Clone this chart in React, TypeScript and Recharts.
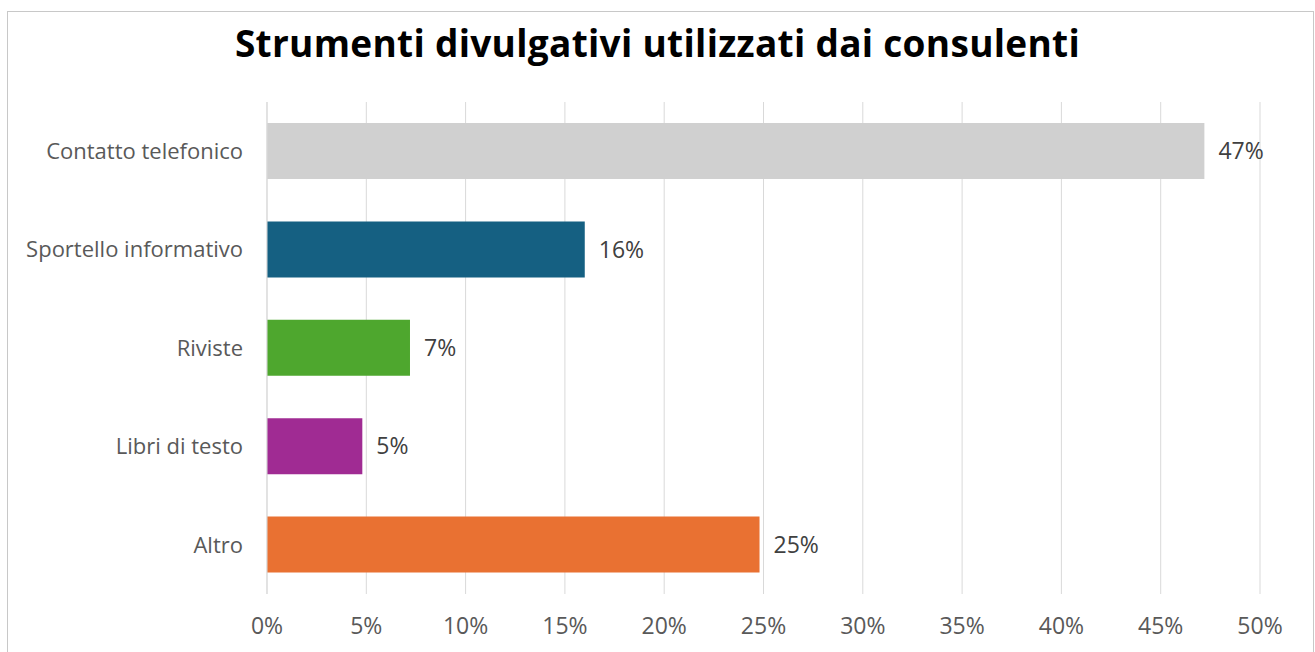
import React from "react";
import { BarChart, Bar, XAxis, YAxis, CartesianGrid, Cell, LabelList } from "recharts";

const categories = ["Contatto telefonico", "Sportello informativo", "Riviste", "Libri di testo", "Altro"];
const values = [0.472, 0.16, 0.072, 0.048, 0.248];
const colors = ["#D0D0D0", "#156082", "#4EA72E", "#A02B93", "#E97132"];
const xTicks = [0, 0.05, 0.1, 0.15, 0.2, 0.25, 0.3, 0.35, 0.4, 0.45, 0.5];
const title = "Strumenti divulgativi utilizzati dai consulenti";

const data = categories.map((c, i) => ({ name: c, value: values[i] }));
const pct = (v: number) => `${Math.round(v * 100)}%`;
const font = "'Open Sans', sans-serif";

export default function App() {
  return (
    <div style={{ position: "fixed", left: 0, top: 0, width: 1315, height: 652, background: "#fff", overflow: "hidden" }}>
      <div style={{ position: "absolute", left: 0, width: 1315, top: 19, textAlign: "center", fontFamily: font, fontWeight: 700, fontSize: 37, color: "#000", lineHeight: "48px", letterSpacing: 0.3 }}>
        {title}
      </div>
      <div style={{ position: "absolute", left: 0, top: 0 }}>
        <BarChart width={1315} height={652} data={data} layout="vertical" margin={{ top: 102, right: 55, bottom: 0, left: 17 }} barSize={56}>
          <CartesianGrid horizontal={false} vertical={true} stroke="#D9D9D9" />
          <XAxis type="number" domain={[0, 0.5]} ticks={xTicks} tickFormatter={pct} axisLine={false} tickLine={false} height={58} tickMargin={18} tick={{ fill: "#595959", fontSize: 23, fontFamily: font }} interval={0} />
          <YAxis type="category" dataKey="name" width={250} axisLine={{ stroke: "#D9D9D9" }} tickLine={false} tickMargin={18} tick={{ fill: "#595959", fontSize: 22, fontFamily: font }} interval={0} />
          <Bar dataKey="value" isAnimationActive={false}>
            {data.map((d, i) => (
              <Cell key={d.name} fill={colors[i]} />
            ))}
            <LabelList dataKey="value" position="right" offset={14} formatter={(v: number) => pct(v)} fill="#404040" fontSize={23} fontFamily={font} />
          </Bar>
        </BarChart>
      </div>
      <div style={{ position: "absolute", left: 7, top: 11, width: 1307, height: 700, border: "1px solid #C8C8C8", boxSizing: "border-box", pointerEvents: "none" }} />
    </div>
  );
}
